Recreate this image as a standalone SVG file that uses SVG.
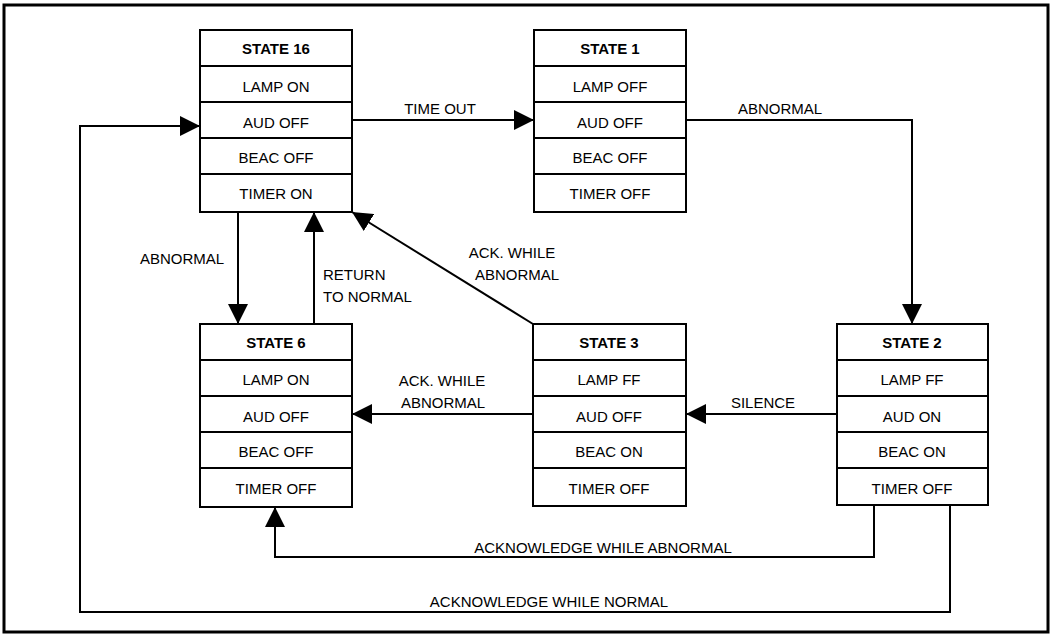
<svg xmlns="http://www.w3.org/2000/svg" width="1053" height="637" viewBox="0 0 1053 637">
<style>
.box{fill:#fff;stroke:#000;stroke-width:2}
.div{stroke:#000;stroke-width:2}
.t{font-family:"Liberation Sans",Arial,sans-serif;font-size:15px;fill:#000;text-anchor:middle}
.b{font-weight:bold}
.c{fill:none;stroke:#000;stroke-width:2}
.l{font-family:"Liberation Sans",Arial,sans-serif;font-size:15px;fill:#000}
</style>
<defs>
<marker id="ah" markerUnits="userSpaceOnUse" markerWidth="20" markerHeight="20" refX="20" refY="10" orient="auto" viewBox="0 0 20 20">
<path d="M0,0 L20,10 L0,20 z" fill="#000"/>
</marker>
</defs>
<rect x="4" y="5" width="1044" height="627" fill="#fff" stroke="#000" stroke-width="3"/>

<g id="connectors">
<path class="c" d="M352,120 H534" marker-end="url(#ah)"/>
<path class="c" d="M686,120 H912 V324" marker-end="url(#ah)"/>
<path class="c" d="M837,414 H686" marker-end="url(#ah)"/>
<path class="c" d="M533,414 H352" marker-end="url(#ah)"/>
<path class="c" d="M533,324 L352,212" marker-end="url(#ah)"/>
<path class="c" d="M238,212 V324" marker-end="url(#ah)"/>
<path class="c" d="M314,324 V212" marker-end="url(#ah)"/>
<path class="c" d="M874,505 V557 H275 V507" marker-end="url(#ah)"/>
<path class="c" d="M950,505 V612 H80 V126 H200" marker-end="url(#ah)"/>
<text class="l" x="440" y="114" text-anchor="middle">TIME OUT</text>
<text class="l" x="780" y="114" text-anchor="middle">ABNORMAL</text>
<text class="l" x="763" y="408" text-anchor="middle">SILENCE</text>
<text class="l" x="442" y="386" text-anchor="middle">ACK. WHILE</text>
<text class="l" x="443" y="408" text-anchor="middle">ABNORMAL</text>
<text class="l" x="512" y="258" text-anchor="middle">ACK. WHILE</text>
<text class="l" x="517" y="280" text-anchor="middle">ABNORMAL</text>
<text class="l" x="182" y="264" text-anchor="middle">ABNORMAL</text>
<text class="l" x="323" y="280">RETURN</text>
<text class="l" x="323" y="302">TO NORMAL</text>
<text class="l" x="603" y="553" text-anchor="middle">ACKNOWLEDGE WHILE ABNORMAL</text>
<text class="l" x="549" y="607" text-anchor="middle">ACKNOWLEDGE WHILE NORMAL</text>
</g>

<g id="state16">
<rect class="box" x="200" y="30" width="152" height="182"/>
<path class="div" d="M200,66 H352 M200,102 H352 M200,138 H352 M200,174 H352"/>
<text class="t b" x="276" y="54">STATE 16</text>
<text class="t" x="276" y="92">LAMP ON</text>
<text class="t" x="276" y="128">AUD OFF</text>
<text class="t" x="276" y="163">BEAC OFF</text>
<text class="t" x="276" y="199">TIMER ON</text>
</g>

<g id="state1">
<rect class="box" x="534" y="30" width="152" height="182"/>
<path class="div" d="M534,66 H686 M534,102 H686 M534,138 H686 M534,174 H686"/>
<text class="t b" x="610" y="54">STATE 1</text>
<text class="t" x="610" y="92">LAMP OFF</text>
<text class="t" x="610" y="128">AUD OFF</text>
<text class="t" x="610" y="163">BEAC OFF</text>
<text class="t" x="610" y="199">TIMER OFF</text>
</g>

<g id="state6">
<rect class="box" x="200" y="324" width="152" height="183"/>
<path class="div" d="M200,360 H352 M200,396 H352 M200,432 H352 M200,468 H352"/>
<text class="t b" x="276" y="348">STATE 6</text>
<text class="t" x="276" y="385">LAMP ON</text>
<text class="t" x="276" y="422">AUD OFF</text>
<text class="t" x="276" y="457">BEAC OFF</text>
<text class="t" x="276" y="494">TIMER OFF</text>
</g>

<g id="state3">
<rect class="box" x="533" y="324" width="153" height="182"/>
<path class="div" d="M533,360 H686 M533,396 H686 M533,432 H686 M533,468 H686"/>
<text class="t b" x="609" y="348">STATE 3</text>
<text class="t" x="609" y="385">LAMP FF</text>
<text class="t" x="609" y="422">AUD OFF</text>
<text class="t" x="609" y="457">BEAC ON</text>
<text class="t" x="609" y="494">TIMER OFF</text>
</g>

<g id="state2">
<rect class="box" x="837" y="324" width="151" height="181"/>
<path class="div" d="M837,360 H988 M837,396 H988 M837,432 H988 M837,468 H988"/>
<text class="t b" x="912" y="348">STATE 2</text>
<text class="t" x="912" y="385">LAMP FF</text>
<text class="t" x="912" y="422">AUD ON</text>
<text class="t" x="912" y="457">BEAC ON</text>
<text class="t" x="912" y="494">TIMER OFF</text>
</g>
</svg>
